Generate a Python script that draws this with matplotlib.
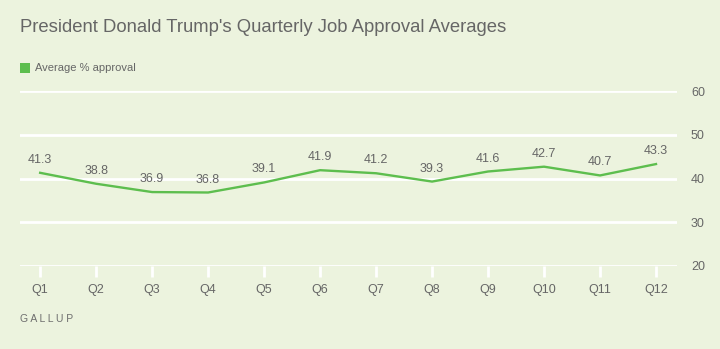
import matplotlib
matplotlib.use('Agg')
import matplotlib.pyplot as plt
from matplotlib.patches import Rectangle

quarters = ['Q1', 'Q2', 'Q3', 'Q4', 'Q5', 'Q6', 'Q7', 'Q8', 'Q9', 'Q10', 'Q11', 'Q12']
approval = [41.3, 38.8, 36.9, 36.8, 39.1, 41.9, 41.2, 39.3, 41.6, 42.7, 40.7, 43.3]
yticks = [20, 30, 40, 50, 60]

bg = '#ECF3DE'
green = '#5DBE4E'
grey = '#666666'

plt.rcParams['font.family'] = ['Liberation Sans', 'DejaVu Sans']

fig = plt.figure(figsize=(7.2, 3.49), dpi=100, facecolor=bg)
ax = fig.add_axes([20/720, 1-266/349, 657/720, 175/349], facecolor=bg)

x = list(range(len(quarters)))
ax.plot(x, approval, color=green, lw=1.7, solid_joinstyle='miter', zorder=3)
for xi, v in zip(x, approval):
    ax.annotate(f'{v:.1f}', (xi, v), xytext=(0, 5), textcoords='offset points',
                ha='center', va='bottom', fontsize=9, color=grey)

ax.set_xlim(-0.36, 11.375)
ax.set_ylim(20, 60)
ax.set_yticks(yticks)
ax.yaxis.grid(True, color='white', lw=2)
ax.set_axisbelow(True)
ax.yaxis.tick_right()
ax.tick_params(axis='y', length=0, pad=10, labelsize=9, labelcolor=grey)
ax.set_xticks(x)
ax.set_xticklabels(quarters)
ax.tick_params(axis='x', length=8, width=2, color='white', pad=5, labelsize=9, labelcolor=grey)
for s in ax.spines.values():
    s.set_visible(False)

fig.text(20/720, 1-28/349, "President Donald Trump's Quarterly Job Approval Averages",
         fontsize=13.3, color=grey, va='center', ha='left')
fig.patches.append(Rectangle((20/720, 1-73/349), 10/720, 10/349, transform=fig.transFigure,
                             facecolor=green, edgecolor='none'))
fig.text(35/720, 1-68/349, 'Average % approval', fontsize=8, color=grey, va='center', ha='left')
fig.text(20/720, 1-319/349, 'G A L L U P', fontsize=7.5, color='#6E6E6E', va='center', ha='left')

fig.savefig('out.png', dpi=100, facecolor=bg)
